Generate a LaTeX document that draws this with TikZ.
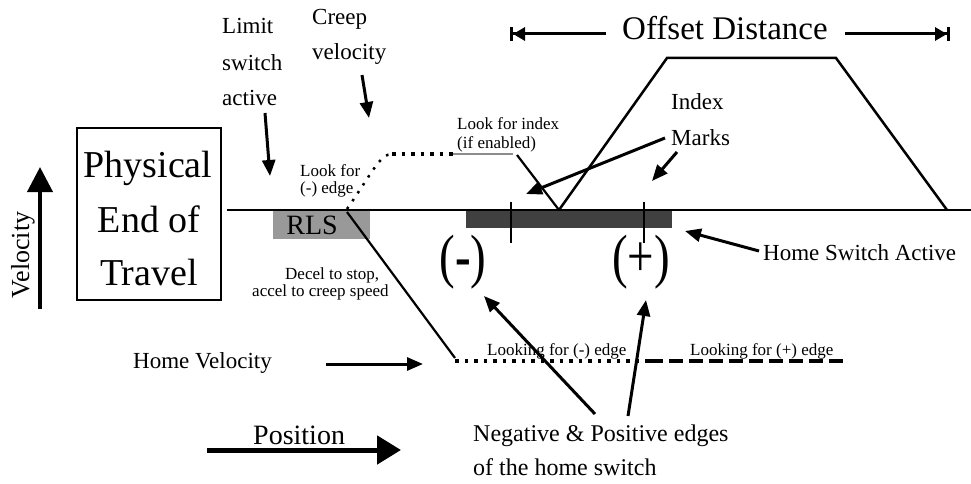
\documentclass[tikz,border=0pt]{standalone}
\usepackage{fontspec}
\setmainfont{Liberation Serif}
\usetikzlibrary{arrows.meta}
\definecolor{rlsgray}{RGB}{153,153,153}
\definecolor{hsgray}{RGB}{64,64,64}
\definecolor{idxgray}{RGB}{140,140,140}
\begin{document}
\begin{tikzpicture}[x=1pt,y=-1pt,
  lbl/.style={inner sep=0pt, anchor=base west},
  txt/.style={lbl, font=\fontsize{23}{23}\selectfont},
  note/.style={lbl, font=\fontsize{17}{17}\selectfont},
  pointer/.style={line width=3pt, -{Triangle[length=16pt,width=13pt]}},
  bigpointer/.style={line width=5pt, -{Triangle[length=24pt,width=28pt]}},
  dotline/.style={line width=3.5pt, dash pattern=on 3.5pt off 6pt},
  dashline/.style={line width=3.5pt, dash pattern=on 14pt off 6pt},
  profile/.style={line width=2.5pt, line join=miter},
  tick/.style={line width=2.2pt}
]
\useasboundingbox (0,0) rectangle (971,484);

% switch regions under the position axis
\fill[rlsgray] (273,211) rectangle (370,239);
\fill[hsgray] (466,211) rectangle (672,228);
\node[inner sep=0pt, anchor=base, font=\fontsize{28}{28}\selectfont] (rls) at (312,234) {RLS};

% position axis
\coordinate (axL) at (227,210);
\coordinate (axR) at (971,210);
\draw[line width=2.2pt] (axL) -- (axR);

% index marks
\coordinate (tk1a) at (511,202); \coordinate (tk1b) at (511,243);
\coordinate (tk2a) at (644,202); \coordinate (tk2b) at (644,243);
\draw[tick] (tk1a) -- (tk1b);
\draw[tick] (tk2a) -- (tk2b);

% physical end of travel
\node[draw, line width=2pt, minimum width=144pt, minimum height=172pt, inner sep=0pt] (pet) at (149,214) {};
\node[inner sep=0pt, anchor=base, font=\fontsize{38}{38}\selectfont] (pet1) at (148,177) {Physical};
\node[inner sep=0pt, anchor=base, font=\fontsize{38}{38}\selectfont] (pet2) at (149,232) {End of};
\node[inner sep=0pt, anchor=base, font=\fontsize{38}{38}\selectfont] (pet3) at (149,285) {Travel};

% axis labels
\coordinate (velA) at (40,309); \coordinate (velB) at (40,167);
\draw[line width=4pt, -{Triangle[length=25pt,width=25pt]}] (velA) -- (velB);
\node[inner sep=0pt, rotate=90, font=\fontsize{26}{26}\selectfont] (vel) at (23,255) {Velocity};
\coordinate (posA) at (207,450); \coordinate (posB) at (401,450);
\draw[bigpointer] (posA) -- (posB);
\node[lbl, font=\fontsize{28}{28}\selectfont] (pos) at (253,444) {Position};

% upper labels
\node[txt] (lim1) at (222,34) {Limit};
\node[txt] (lim2) at (222,71) {switch};
\node[txt] (lim3) at (222,106) {active};
\coordinate (lsaA) at (265,113); \coordinate (lsaB) at (270,176);
\draw[pointer] (lsaA) -- (lsaB);

\node[txt] (cr1) at (312,25) {Creep};
\node[txt] (cr2) at (312,60) {velocity};
\coordinate (crA) at (362,75); \coordinate (crB) at (369,118);
\draw[pointer] (crA) -- (crB);

\node[note] (lf1) at (300,176) {Look for};
\node[note] (lf2) at (300,193) {(-) edge};
\node[note] (li1) at (457,130) {Look for index};
\node[note] (li2) at (457,148) {(if enabled)};

% creep move toward the (-) edge and index search
\coordinate (cvA) at (347,209);
\coordinate (cvB) at (392,154);
\coordinate (cvC) at (453,154);
\coordinate (cvD) at (513,154);
\coordinate (ixA) at (517,155);
\coordinate (ixB) at (559,210);
\draw[line width=2.5pt, dash pattern=on 2.5pt off 7pt] (cvA) .. controls (372,173) and (380,154) .. (cvB);
\draw[dotline] (cvB) -- (cvC);
\draw[idxgray, line width=2.5pt] (cvC) -- (cvD);
\draw[line width=2.2pt] (ixA) -- (ixB);

% offset move
\coordinate (trA) at (667,58);
\coordinate (trB) at (836,58);
\coordinate (trC) at (947,210);
\draw[profile] (ixB) -- (trA) -- (trB) -- (trC);

% offset distance
\node[lbl, font=\fontsize{33}{33}\selectfont] (off) at (622,40) {Offset Distance};
\coordinate (offL1) at (606,34); \coordinate (offL2) at (510,34);
\coordinate (offR1) at (845,34); \coordinate (offR2) at (950,34);
\draw[line width=3pt, -{Triangle[length=12pt,width=13pt]Bar[width=14pt,line width=3pt]}] (offL1) -- (offL2);
\draw[line width=3pt, -{Triangle[length=12pt,width=13pt]Bar[width=14pt,line width=3pt]}] (offR1) -- (offR2);

% index marks label
\node[txt] (ix1) at (671,110) {Index};
\node[txt] (ix2) at (671,145) {Marks};
\coordinate (mkA1) at (665,138); \coordinate (mkB1) at (526,194);
\coordinate (mkA2) at (677,152); \coordinate (mkB2) at (652,181);
\draw[pointer] (mkA1) -- (mkB1);
\draw[pointer] (mkA2) -- (mkB2);

% home switch edges
\node[inner sep=0pt, anchor=center, yscale=1.27, font=\fontsize{47}{47}\selectfont] (neg) at (463,262) {(\textbf{-})};
\node[inner sep=0pt, anchor=center, yscale=1.27, font=\fontsize{47}{47}\selectfont] (posedge) at (641,262) {(+)};

\node[txt] (hsa) at (763,260) {Home Switch Active};
\coordinate (hsA) at (759,251); \coordinate (hsB) at (685,231);
\draw[pointer] (hsA) -- (hsB);

% deceleration and home velocity search
\node[note] (dc1) at (285,279) {Decel to stop,};
\node[note] (dc2) at (252,296) {accel to creep speed};
\coordinate (dcA) at (347,212);
\coordinate (dcB) at (455,358);
\draw[line width=2.2pt] (dcA) -- (dcB);

\node[txt] (hv) at (133,368) {Home Velocity};
\coordinate (hvA) at (326,364); \coordinate (hvB) at (423,364);
\draw[pointer] (hvA) -- (hvB);

\coordinate (sL) at (455,361);
\coordinate (sM) at (649,361);
\coordinate (sR) at (848,361);
\draw[dotline] (sL) -- (sM);
\draw[dashline] (sM) -- (sR);
\node[note] (lk1) at (487,355) {Looking for (-) edge};
\node[note] (lk2) at (690,355) {Looking for (+) edge};

% edges caption
\node[lbl, font=\fontsize{24}{24}\selectfont] (ed1) at (473,441) {Negative \& Positive edges};
\node[lbl, font=\fontsize{24}{24}\selectfont] (ed2) at (473,475) {of the home switch};
\coordinate (neA1) at (595,414); \coordinate (neB1) at (484,296);
\coordinate (neA2) at (628,416); \coordinate (neB2) at (646,300);
\draw[pointer] (neA1) -- (neB1);
\draw[pointer] (neA2) -- (neB2);
\end{tikzpicture}
\end{document}
